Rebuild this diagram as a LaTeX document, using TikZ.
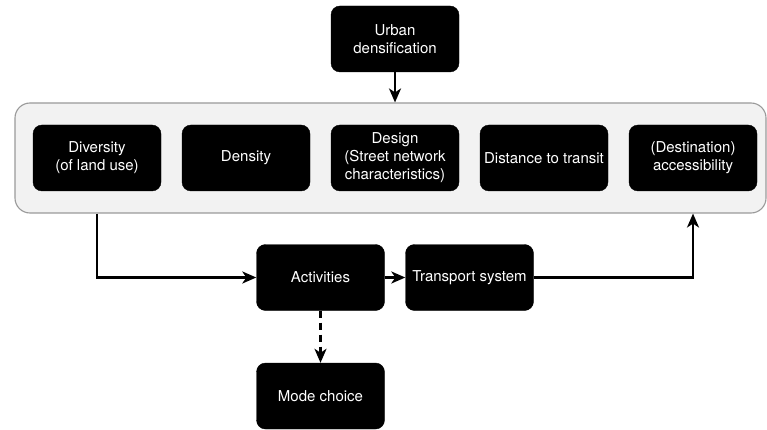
\documentclass[tikz,border=0pt]{standalone}
\usepackage{fontspec}
\setmainfont{TeX Gyre Heros}
\usetikzlibrary{arrows.meta,positioning}

\definecolor{panelfill}{HTML}{F2F2F2}
\definecolor{panelrule}{HTML}{9A9A9A}

\tikzset{
  blackbox/.style={draw=black, fill=black, text=white, rounded corners=9pt,
    minimum width=128pt, minimum height=66pt, inner sep=0pt, align=center,
    font=\fontsize{15}{18}\selectfont},
  panel/.style={draw=panelrule, line width=1.1pt, fill=panelfill, rounded corners=15pt,
    minimum width=751pt, minimum height=110pt, inner sep=0pt},
  flow/.style={line width=2.2pt, -{Stealth[length=14pt,width=12pt,inset=4pt]}},
  maybe/.style={flow, dash pattern=on 7pt off 5pt}
}

\begin{document}
\begin{tikzpicture}[x=1pt,y=-1pt]
  \useasboundingbox (0,0) rectangle (767,430);

  % grouping panel of the five built-environment factors
  \node[panel] (frame) at (390.5,158) {};

  \node[blackbox] (urban) at (395,39) {Urban\\densification};

  \node[blackbox] (div)  at (97,158)  {Diversity\\(of land use)};
  \node[blackbox] (dens) at (246,158) {Density};
  \node[blackbox] (des)  at (395,158) {Design\\(Street network\\characteristics)};
  \node[blackbox] (dist) at (544,158) {Distance to transit};
  \node[blackbox] (acc)  at (693,158) {(Destination)\\accessibility};

  \node[blackbox] (act)   at (320.5,277.5) {Activities};
  \node[blackbox] (trans) at (469.5,277.5) {Transport system};
  \node[blackbox] (mode)  at (320.5,396)   {Mode choice};

  % connectors
  \draw[flow] (urban.south) -- (urban.south |- frame.north);
  \draw[flow] (frame.south -| div.south) |- (act.west);
  \draw[flow] (act.east) -- (trans.west);
  \draw[flow] (trans.east) -| (frame.south -| acc.south);
  \draw[maybe] (act.south) -- (mode.north);
\end{tikzpicture}
\end{document}
